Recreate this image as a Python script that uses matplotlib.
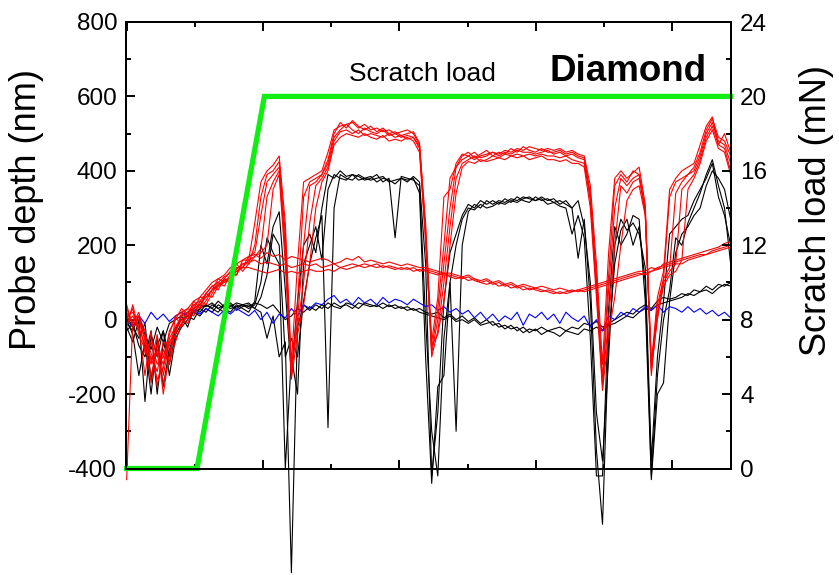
import numpy as np
import matplotlib
matplotlib.use("Agg")
import matplotlib.pyplot as plt
from matplotlib.ticker import MultipleLocator, NullFormatter

plt.rcParams['font.family'] = ['Liberation Sans', 'DejaVu Sans']
plt.rcParams['axes.unicode_minus'] = False

# ---------------- data ----------------
distance = np.linspace(0, 4.43, 100)

red_hi_1 = [30, -10, 20, -60, -120, -40, -150, -60, -30, 0,
            -10, 30, 40, 60, 80, 90, 100, 110, 130, 140,
            160, 260, 370, 400, 415, 440, 260, -120, 150, 370,
            380, 390, 400, 450, 510, 520, 525, 530, 515, 525,
            510, 515, 505, 510, 500, 505, 510, 500, 470, 260,
            -60, 60, 330, 350, 420, 445, 440, 450, 435, 440,
            450, 445, 455, 450, 460, 455, 465, 460, 455, 460,
            455, 460, 450, 455, 445, 440, 360, 150, -120, 180,
            380, 400, 380, 395, 410, 310, -120, 60, 130, 350,
            380, 400, 410, 420, 470, 520, 545, 470, 500, 450]
red_hi_2 = [10, 20, -20, -150, -30, -180, -80, -120, 10, -20,
            20, 10, 50, 40, 70, 100, 90, 120, 120, 150,
            150, 200, 330, 390, 400, 425, 230, -150, 40, 330,
            370, 380, 390, 430, 500, 530, 515, 535, 520, 510,
            520, 505, 515, 500, 505, 495, 500, 505, 475, 240,
            -80, 30, 200, 380, 410, 440, 450, 435, 445, 455,
            440, 450, 445, 460, 450, 465, 455, 450, 460, 450,
            450, 455, 445, 450, 440, 435, 340, 120, -160, 120,
            360, 390, 370, 400, 390, 290, -140, 40, 110, 330,
            370, 380, 390, 410, 450, 510, 540, 490, 480, 440]
red_hi_3 = [-20, 40, -30, -40, -170, -60, -200, -90, -40, 20,
            0, 40, 30, 70, 60, 90, 110, 100, 140, 140,
            170, 180, 280, 370, 390, 410, 200, -140, 0, 200,
            360, 370, 390, 420, 490, 510, 525, 510, 500, 515,
            505, 500, 510, 495, 500, 490, 495, 490, 465, 230,
            -90, 0, 150, 300, 410, 430, 440, 430, 440, 445,
            450, 440, 450, 445, 455, 450, 450, 445, 450, 455,
            445, 450, 440, 445, 435, 430, 330, 100, -180, 80,
            300, 380, 360, 380, 390, 300, -150, 20, 110, 140,
            340, 370, 390, 400, 440, 500, 530, 480, 470, 420]
red_hi_4 = [-430, 0, 10, -90, -100, -160, -130, -50, -20, 10,
            30, 20, 40, 70, 90, 80, 110, 130, 120, 160,
            160, 170, 190, 330, 370, 400, 180, -130, -20, 100,
            260, 360, 380, 410, 480, 505, 510, 500, 510, 495,
            500, 495, 490, 500, 490, 495, 485, 490, 460, 220,
            -100, -30, 100, 250, 380, 420, 430, 440, 425, 430,
            440, 435, 445, 440, 445, 440, 445, 440, 445, 440,
            440, 435, 440, 430, 425, 420, 320, 80, -170, 0,
            200, 360, 340, 370, 380, 290, -130, 0, 100, 130,
            150, 350, 370, 390, 430, 490, 520, 470, 460, 400]
red_hi_5 = [40, -20, 10, -30, -110, -90, -170, -110, -60, -10,
            10, 50, 30, 50, 80, 110, 100, 120, 150, 130,
            150, 170, 180, 200, 350, 390, 150, -160, -40, 40,
            150, 300, 370, 400, 470, 490, 500, 495, 490, 500,
            490, 485, 495, 480, 485, 480, 490, 480, 450, 210,
            -70, -40, 50, 200, 340, 410, 425, 420, 430, 425,
            430, 435, 430, 440, 435, 440, 430, 435, 440, 430,
            430, 425, 430, 420, 420, 410, 300, 60, -190, -40,
            60, 200, 320, 350, 360, 280, -110, 10, 90, 120,
            130, 160, 350, 380, 420, 480, 510, 460, 450, 390]

red_lo_1 = [0, 30, -40, -80, -60, -120, -100, -40, 10, 20,
            30, 50, 60, 80, 100, 110, 120, 140, 150, 160,
            170, 175, 165, 180, 170, 175, 160, 170, 165, 160,
            155, 160, 165, 160, 150, 155, 165, 160, 170, 155,
            160, 155, 150, 155, 150, 145, 150, 145, 140, 140,
            135, 130, 125, 125, 120, 115, 120, 110, 105, 110,
            100, 105, 95, 100, 90, 95, 90, 85, 90, 85,
            80, 85, 80, 75, 80, 85, 90, 95, 100, 105,
            110, 115, 120, 125, 130, 130, 140, 135, 150, 155,
            160, 165, 170, 175, 180, 185, 190, 195, 205, 210]
red_lo_2 = [20, -10, 0, -50, -90, -140, -60, -70, -20, 0,
            20, 40, 50, 70, 90, 100, 115, 125, 135, 150,
            155, 160, 150, 155, 150, 145, 150, 140, 145, 150,
            145, 150, 140, 145, 150, 140, 145, 150, 145, 150,
            145, 150, 140, 145, 140, 135, 140, 130, 135, 130,
            125, 120, 125, 115, 110, 115, 105, 110, 100, 95,
            100, 90, 95, 85, 90, 80, 85, 80, 75, 80,
            75, 70, 75, 80, 75, 80, 85, 90, 95, 100,
            105, 110, 115, 120, 125, 120, 130, 140, 145, 150,
            155, 160, 165, 170, 175, 175, 185, 190, 195, 200]
red_lo_3 = [-10, 10, -20, -70, -150, -80, -120, -30, 0, 30,
            10, 30, 60, 60, 80, 95, 105, 115, 130, 140,
            140, 135, 130, 125, 130, 135, 125, 130, 125, 130,
            135, 130, 130, 135, 130, 140, 135, 140, 145, 140,
            145, 140, 145, 140, 135, 140, 135, 140, 130, 135,
            130, 125, 120, 120, 115, 110, 115, 105, 100, 105,
            95, 100, 90, 95, 85, 90, 80, 85, 80, 75,
            70, 75, 70, 75, 80, 75, 80, 85, 90, 95,
            100, 105, 110, 115, 120, 125, 130, 135, 140, 145,
            150, 150, 160, 165, 170, 175, 180, 185, 190, 195]

black_hi_1 = [-20, -60, 0, -220, -40, -100, -30, -150, -50, -20,
              0, 20, 10, 30, 20, 40, 30, 20, 40, 30,
              20, 50, 200, 150, 250, 290, 80, -150, 50, 200,
              230, 180, 300, 390, 380, 400, 385, 390, 375, 380,
              385, 370, 380, 375, 365, 380, 370, 385, 370, 150,
              -420, -250, 50, 180, 230, 280, 310, 300, 320, 310,
              320, 310, 325, 315, 330, 320, 315, 330, 320, 325,
              315, 320, 310, 300, 320, 250, 100, -250, -380, -100,
              200, 270, 240, 260, 230, 140, -380, -100, 50, 230,
              250, 270, 280, 320, 350, 380, 420, 330, 280, 200]
black_hi_2 = [0, -40, -150, -60, -200, -50, -180, -80, -30, 10,
              -20, 30, 20, 40, 30, 20, 40, 30, 35, 40,
              30, 40, 100, 220, 180, 150, -400, -100, -200, 150,
              200, 250, 160, 350, 390, 380, 375, 390, 385, 375,
              380, 390, 370, 380, 220, 385, 380, 375, 360, 0,
              -300, -420, -50, 100, -300, 200, 290, 310, 300, 320,
              310, 320, 315, 325, 320, 330, 325, 320, 330, 320,
              325, 310, 320, 300, 165, 270, 50, -350, -550, -50,
              150, 240, 270, 200, 250, 100, -420, -150, 0, 80,
              220, 200, 260, 300, 340, 390, 430, 360, 300, 150]
black_hi_3 = [-30, -10, -70, -100, -30, -200, -60, -120, -40, -10,
              10, 0, 30, 20, 40, 30, 20, 40, 25, 35,
              40, 30, 60, 120, 230, 200, -100, -50, -100, 50,
              150, 220, 280, -290, 300, 390, 380, 375, 390, 380,
              375, 380, 385, 370, 375, 380, 375, 380, 340, -100,
              -440, -180, -150, 100, 200, 270, 300, 295, 310, 300,
              305, 315, 310, 320, 315, 325, 330, 320, 325, 310,
              315, 305, 300, 230, 280, 220, -50, -420, -420, 30,
              250, 200, 230, 280, 270, 50, -430, -200, -170, 50,
              180, 230, 250, 280, 300, 360, 400, 380, 350, 270]

black_lo_1 = [-10, -30, 10, -40, -80, -20, -60, -10, 0, 10,
              20, 30, 40, 35, 45, 30, 40, 35, 45, 40,
              35, 45, 40, 30, 40, 20, 0, 10, 30, 20,
              35, 25, 40, 30, 45, 35, 40, 30, 45, 40,
              35, 40, 30, 40, 30, 35, 25, 30, 20, 15,
              10, 5, 0, 10, -5, 0, -10, 0, -15, -10,
              -5, -20, -15, -25, -20, -35, -25, -30, -20, -30,
              -25, -20, -30, -20, -25, -10, -15, -5, -20, -10,
              0, 10, 20, 15, 30, 40, 30, 50, 60, 55,
              60, 70, 65, 80, 75, 90, 80, 95, 90, 100]
black_lo_2 = [10, -20, -50, -10, -160, -70, -30, -100, -20, 0,
              10, 20, 30, 40, 30, 50, 35, 45, 30, 40,
              45, 30, 20, -50, 10, -100, -60, -680, -20, 40,
              25, 40, 30, 45, 35, 30, 45, 40, 30, 45,
              40, 35, 45, 35, 40, 30, 35, 25, 30, 20,
              15, 20, 5, 15, 0, 10, -5, 5, -10, 0,
              -15, -10, -25, -15, -30, -20, -35, -25, -40, -30,
              -35, -45, -30, -35, -40, -25, -30, -20, -30, -15,
              -10, 0, 10, 5, 20, 30, 25, 40, 45, 50,
              55, 60, 70, 65, 75, 80, 70, 85, 95, 90]

blue_ref = [0, -20, 10, -10, 20, 0, 15, -5, 10, 20,
            10, 25, 15, 30, 20, 10, 25, 15, 30, 20,
            10, 25, 0, 20, -10, 15, 5, 30, 10, 40,
            30, 45, 40, 55, 65, 45, 55, 40, 60, 45,
            55, 40, 60, 45, 55, 50, 40, 55, 45, 35,
            40, 25, 35, 20, 30, 15, 25, 5, 20, 0,
            15, -5, 10, 0, 20, -15, 15, 5, 20, 0,
            15, -10, 20, 5, -5, 10, -20, 0, -30, 10,
            0, 20, 10, 30, 20, 35, 25, 40, 20, 35,
            30, 20, 35, 20, 30, 15, 25, 10, 20, 5]

load_x = [0.0, 0.516, 1.01, 4.43]
load_mN = [0, 0, 20, 20]

red_traces = [red_hi_1, red_hi_2, red_hi_3, red_hi_4, red_hi_5,
              red_lo_1, red_lo_2, red_lo_3]
black_traces = [black_hi_1, black_hi_2, black_hi_3, black_lo_1, black_lo_2]

# ---------------- figure ----------------
W, H = 839, 575
fig = plt.figure(figsize=(W / 100, H / 100), dpi=100)
ax = fig.add_axes([125.5 / W, 1 - 468.5 / H, 605 / W, 446.5 / H])

for tr in black_traces:
    ax.plot(distance, tr, color='black', lw=0.8, clip_on=False)
ax.plot(distance, blue_ref, color='#0000ff', lw=0.8, clip_on=False)
for tr in red_traces:
    ax.plot(distance, tr, color='#ff0000', lw=0.8, clip_on=False)

ax.set_xlim(-0.0086, 4.429)
ax.set_ylim(-400, 800)

ax2 = ax.twinx()
ax2.plot(load_x, load_mN, color='#11ee11', lw=3.8, clip_on=False,
         solid_joinstyle='miter')
ax2.set_ylim(0, 24)

# ticks
ax.xaxis.set_major_locator(MultipleLocator(1))
ax.xaxis.set_minor_locator(MultipleLocator(0.5))
ax.xaxis.set_major_formatter(NullFormatter())
ax.yaxis.set_major_locator(MultipleLocator(200))
ax.yaxis.set_minor_locator(MultipleLocator(100))
ax2.yaxis.set_major_locator(MultipleLocator(4))
ax2.yaxis.set_minor_locator(MultipleLocator(2))

ax.tick_params(axis='x', which='both', direction='in', top=True, bottom=True,
               labelbottom=False, width=1.4)
ax.tick_params(axis='y', which='both', direction='in', left=True, right=False,
               width=1.4, labelsize=17.5, pad=6)
ax.tick_params(which='major', length=6.5)
ax.tick_params(which='minor', length=3.8)
ax2.tick_params(axis='y', which='both', direction='in', width=1.4,
                labelsize=17.5, pad=7)
ax2.tick_params(which='major', length=6.5)
ax2.tick_params(which='minor', length=3.8)

for a in (ax, ax2):
    for s in a.spines.values():
        s.set_linewidth(1.4)

fig.text(27 / W, 1 - 210 / H, 'Probe depth (nm)', rotation=90,
         ha='center', va='center', fontsize=26)
fig.text(817 / W, 1 - 210 / H, 'Scratch load (mN)', rotation=90,
         ha='center', va='center', fontsize=26)
fig.text(349 / W, 1 - 81 / H, 'Scratch load', ha='left', va='baseline',
         fontsize=19)
fig.text(549 / W, 1 - 81 / H, 'Diamond', ha='left', va='baseline',
         fontsize=26.5, fontweight='bold')

fig.savefig('out.png', dpi=100)
